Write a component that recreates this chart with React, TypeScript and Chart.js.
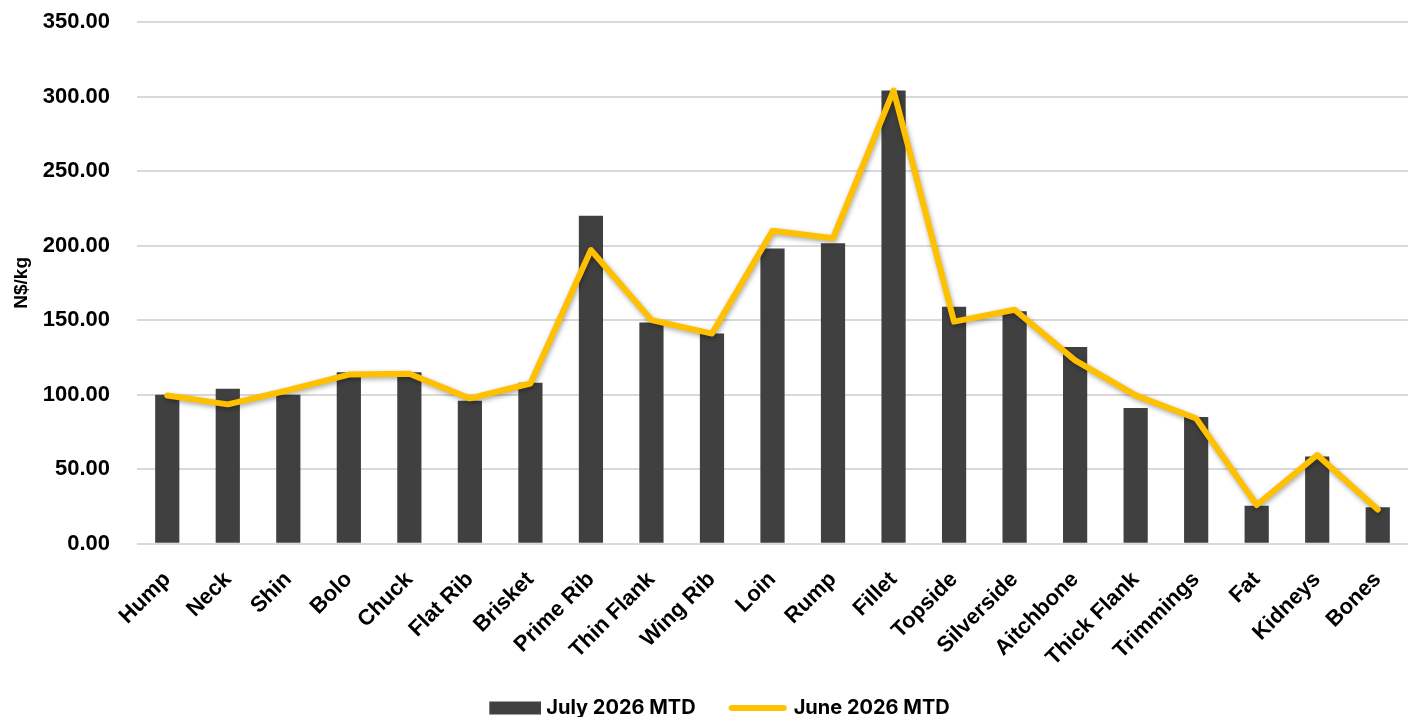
import React, { useEffect, useRef } from "react";
import { Chart, registerables } from "chart.js";

Chart.register(...registerables);

const categories = ["Hump", "Neck", "Shin", "Bolo", "Chuck", "Flat Rib", "Brisket", "Prime Rib", "Thin Flank", "Wing Rib", "Loin", "Rump", "Fillet", "Topside", "Silverside", "Aitchbone", "Thick Flank", "Trimmings", "Fat", "Kidneys", "Bones"];
const july2026 = [100, 104, 100, 115, 115, 96, 108, 220, 148.5, 141, 198, 201.5, 304, 159, 156, 132, 91, 85, 25.5, 58.5, 24.5];
const june2026 = [99.5, 93.5, 103, 113.5, 114, 97.5, 107.5, 197, 150, 141, 210, 205, 304, 149, 157, 123, 99.5, 84, 26, 59.5, 23];
const yTicks = [0, 50, 100, 150, 200, 250, 300, 350];

const BAR = "#404040";
const GOLD = "#FFC000";
const FONT = "'Liberation Sans', Arial, sans-serif";
const LEG_PAD = 12;
const SW_BOX = 76;
const SW_CANVAS = SW_BOX + 10;
const CANVAS_H = 728;

function makeSwatch(kind: "bar" | "line"): HTMLCanvasElement {
  const c = document.createElement("canvas");
  c.width = SW_CANVAS; c.height = 14;
  const x = c.getContext("2d")!;
  if (kind === "bar") {
    x.fillStyle = BAR; x.fillRect(SW_CANVAS - 52, 0.5, 52, 13);
  } else {
    x.strokeStyle = GOLD; x.lineWidth = 6; x.lineCap = "round";
    x.beginPath(); x.moveTo(SW_CANVAS - 57, 7); x.lineTo(SW_CANVAS - 5, 7); x.stroke();
  }
  return c;
}

const shadowPlugin = {
  id: "lineShadow",
  beforeDatasetDraw(chart: any, args: any) {
    if (args.meta.type === "line") {
      const ctx = chart.ctx;
      ctx.save();
      ctx.shadowColor = "rgba(0,0,0,0.35)";
      ctx.shadowBlur = 5;
      ctx.shadowOffsetX = 1;
      ctx.shadowOffsetY = 2;
    }
  },
  afterDatasetDraw(chart: any, args: any) {
    if (args.meta.type === "line") chart.ctx.restore();
  },
};

export default function App() {
  const ref = useRef<HTMLCanvasElement>(null);
  useEffect(() => {
    document.body.style.margin = "0";
    const barSw = makeSwatch("bar");
    const lineSw = makeSwatch("line");
    const chart = new Chart(ref.current!, {
      type: "bar",
      data: {
        labels: categories,
        datasets: [
          {
            type: "line",
            label: "June 2026 MTD",
            data: june2026,
            borderColor: GOLD,
            backgroundColor: GOLD,
            borderWidth: 6,
            pointRadius: 0,
            borderCapStyle: "round",
            borderJoinStyle: "round",
            tension: 0,
            order: 0,
          } as any,
          {
            type: "bar",
            label: "July 2026 MTD",
            data: july2026,
            backgroundColor: BAR,
            barPercentage: 0.4,
            categoryPercentage: 1,
            order: 1,
          },
        ],
      },
      options: {
        animation: false,
        responsive: false,
        maintainAspectRatio: false,
        layout: { autoPadding: false, padding: { left: 2, right: 5, top: 22, bottom: 0 } },
        plugins: {
          tooltip: { enabled: false },
          legend: {
            position: "bottom",
            labels: {
              usePointStyle: true,
              pointStyleWidth: SW_BOX,
              boxHeight: 14,
              padding: LEG_PAD,
              color: "#000",
              font: { family: "Inter, 'Liberation Sans', sans-serif", size: 20, weight: "bold" },
              generateLabels: () => [
                { text: "July 2026 MTD", pointStyle: barSw, fillStyle: BAR, strokeStyle: BAR, lineWidth: 0, datasetIndex: 1, hidden: false, fontColor: "#000" } as any,
                { text: "June 2026 MTD", pointStyle: lineSw, fillStyle: GOLD, strokeStyle: GOLD, lineWidth: 0, datasetIndex: 0, hidden: false, fontColor: "#000" } as any,
              ],
            },
          },
        },
        scales: {
          x: {
            grid: { display: false },
            border: { display: false },
            ticks: {
              color: "#000",
              maxRotation: 45,
              minRotation: 45,
              padding: 15,
              font: { family: FONT, size: 22, weight: "bold" },
            },
          },
          y: {
            min: 0,
            max: 350,
            afterBuildTicks: (axis: any) => {
              axis.ticks = yTicks.map((v) => ({ value: v }));
            },
            afterFit: (axis: any) => {
              axis.width = 135;
              axis.paddingTop = 0;
              axis.paddingBottom = 0;
            },
            grid: { color: "#d9d9d9", lineWidth: 2, drawTicks: false },
            border: { display: false },
            title: {
              display: true,
              text: "N$/kg",
              color: "#000",
              font: { family: FONT, size: 19, weight: "bold" },
              padding: { top: 8, bottom: 0 },
            },
            ticks: {
              color: "#000",
              padding: 27,
              font: { family: FONT, size: 22, weight: "bold" },
              callback: (v: any) => Number(v).toFixed(2),
            },
          },
        },
      },
      plugins: [shadowPlugin],
    });
    return () => chart.destroy();
  }, []);
  return (
    <div style={{ position: "absolute", left: 0, top: 0, width: 1413, height: 717, overflow: "hidden", background: "#fff" }}>
      <canvas ref={ref} width={1413} height={CANVAS_H} style={{ width: 1413, height: CANVAS_H }} />
    </div>
  );
}
